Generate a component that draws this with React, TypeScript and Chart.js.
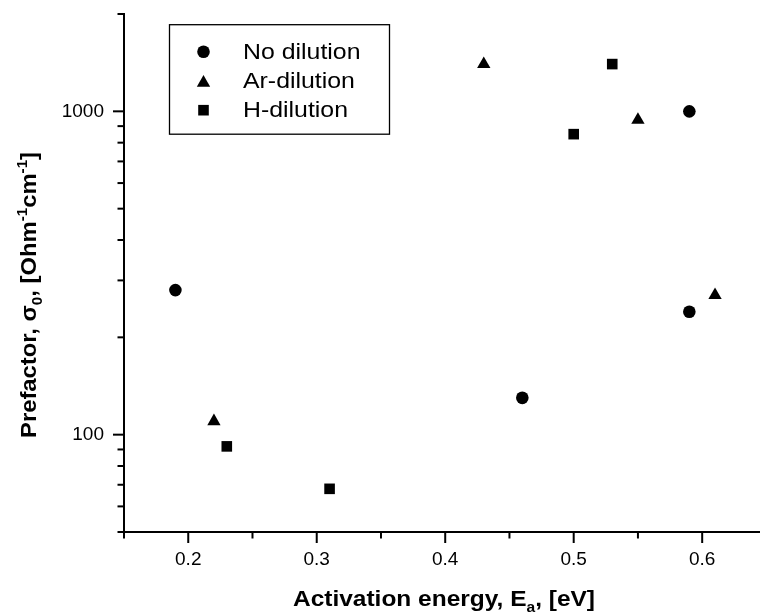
import React, { useEffect, useRef } from 'react';
import { Chart, registerables } from 'chart.js';

Chart.register(...registerables);

// ---- data ----
const seriesLabels = ['No dilution', 'Ar-dilution', 'H-dilution'];
const noDilutionX = [0.19, 0.46, 0.59, 0.59];
const noDilutionY = [280, 130, 1000, 240];
const arDilutionX = [0.22, 0.43, 0.55, 0.61];
const arDilutionY = [110, 1400, 940, 270];
const hDilutionX = [0.23, 0.31, 0.5, 0.53];
const hDilutionY = [92, 68, 850, 1400];

// ---- axes ----
const xMin = 0.15;
const xMax = 0.645;
const yMin = 50;
const yMax = 2000;
const xMajorTicks = [0.2, 0.3, 0.4, 0.5, 0.6];
const xMinorTicks = [0.15, 0.25, 0.35, 0.45, 0.55];
const yMajorTicks = [100, 1000];
const yMinorTicks = [50, 60, 70, 80, 90, 200, 300, 400, 500, 600, 700, 800, 900, 2000];

type Seg = { t: string; sub?: boolean; sup?: boolean };
const xTitle: Seg[] = [{ t: 'Activation energy, E' }, { t: 'a', sub: true }, { t: ', [eV]' }];
const yTitle: Seg[] = [
  { t: 'Prefactor, σ' },
  { t: '0', sub: true },
  { t: ', [Ohm' },
  { t: '-1', sup: true },
  { t: 'cm' },
  { t: '-1', sup: true },
  { t: ']' },
];

const FONT = '"Liberation Sans", Arial, Helvetica, sans-serif';
const pointStyles = ['circle', 'triangle', 'rect'] as const;
const pointRadii = [6.3, 7.7, 7.5];

function segFont(s: Seg, size: number, weight: string) {
  const sz = s.sub || s.sup ? Math.round(size * 0.62) : size;
  return `${weight} ${sz}px ${FONT}`;
}

function richWidth(ctx: CanvasRenderingContext2D, segs: Seg[], size: number, weight: string) {
  let w = 0;
  for (const s of segs) {
    ctx.font = segFont(s, size, weight);
    w += ctx.measureText(s.t).width;
  }
  return w;
}

// draws centered at (0,0) baseline, with horizontal stretch to target width
function drawRich(
  ctx: CanvasRenderingContext2D,
  segs: Seg[],
  size: number,
  weight: string,
  targetWidth: number
) {
  const w = richWidth(ctx, segs, size, weight);
  const sx = targetWidth / w;
  ctx.save();
  ctx.scale(sx, 1);
  ctx.textBaseline = 'alphabetic';
  ctx.textAlign = 'left';
  let x = -w / 2;
  for (const s of segs) {
    ctx.font = segFont(s, size, weight);
    const dy = s.sub ? size * 0.28 : s.sup ? -size * 0.38 : 0;
    ctx.fillText(s.t, x, dy);
    x += ctx.measureText(s.t).width;
  }
  ctx.restore();
}

function drawMarker(ctx: CanvasRenderingContext2D, style: string, r: number, x: number, y: number) {
  ctx.beginPath();
  if (style === 'circle') {
    ctx.arc(x, y, r, 0, Math.PI * 2);
  } else if (style === 'triangle') {
    const a = (2 * Math.PI) / 3;
    let rad = 0;
    ctx.moveTo(x + Math.sin(rad) * r, y - Math.cos(rad) * r);
    rad += a;
    ctx.lineTo(x + Math.sin(rad) * r, y - Math.cos(rad) * r);
    rad += a;
    ctx.lineTo(x + Math.sin(rad) * r, y - Math.cos(rad) * r);
    ctx.closePath();
  } else {
    const s = Math.SQRT1_2 * r;
    ctx.rect(x - s, y - s, 2 * s, 2 * s);
  }
  ctx.fill();
}

const decorPlugin = {
  id: 'decor',
  afterDraw(chart: any) {
    const { ctx, chartArea, scales } = chart;
    const xs = scales.x;
    const ys = scales.y;
    ctx.save();
    ctx.strokeStyle = '#000';
    ctx.fillStyle = '#000';
    ctx.lineWidth = 2;
    ctx.lineCap = 'butt';
    // tick marks
    const b = chartArea.bottom;
    const l = chartArea.left;
    const tick = (x1: number, y1: number, x2: number, y2: number) => {
      ctx.beginPath();
      ctx.moveTo(x1, y1);
      ctx.lineTo(x2, y2);
      ctx.stroke();
    };
    xMajorTicks.forEach((v) => {
      const p = xs.getPixelForValue(v);
      tick(p, b, p, b + 11);
    });
    xMinorTicks.forEach((v) => {
      const p = xs.getPixelForValue(v);
      tick(p, b, p, b + 6.5);
    });
    yMajorTicks.forEach((v) => {
      const p = ys.getPixelForValue(v);
      tick(l, p, l - 11, p);
    });
    yMinorTicks.forEach((v) => {
      const p = ys.getPixelForValue(v);
      tick(l, p, l - 6.5, p);
    });

    // axis titles
    ctx.save();
    ctx.translate(444, 605.5);
    drawRich(ctx, xTitle, 22, 'bold', 302);
    ctx.restore();

    ctx.save();
    ctx.translate(35.5, 295);
    ctx.rotate(-Math.PI / 2);
    drawRich(ctx, yTitle, 22, 'bold', 286);
    ctx.restore();

    // legend
    const bx = l + 45.5;
    const by = chartArea.top + 10.7;
    const bw = 220;
    const bh = 109.5;
    ctx.lineWidth = 1.3;
    ctx.fillStyle = '#fff';
    ctx.fillRect(bx, by, bw, bh);
    ctx.strokeRect(bx, by, bw, bh);
    ctx.fillStyle = '#000';
    const rowCenters = [27, 56.2, 85.5];
    chart.data.datasets.forEach((ds: any, i: number) => {
      const cy = by + rowCenters[i];
      drawMarker(ctx, pointStyles[i], pointRadii[i], bx + 34, i === 1 ? cy + 1.9 : cy);
      ctx.save();
      ctx.translate(bx + 73.5, cy + 6.8);
      ctx.scale(1.13, 1);
      ctx.font = `22px ${FONT}`;
      ctx.textAlign = 'left';
      ctx.textBaseline = 'alphabetic';
      ctx.fillText(ds.label, 0, 0);
      ctx.restore();
    });
    ctx.restore();
  },
};

function toPoints(xs: number[], ys: number[]) {
  return xs.map((x, i) => ({ x, y: ys[i] }));
}

export default function App() {
  const ref = useRef<HTMLCanvasElement | null>(null);

  useEffect(() => {
    document.body.style.margin = '0';
    const canvas = ref.current;
    if (!canvas) return;
    const seriesData = [
      toPoints(noDilutionX, noDilutionY),
      toPoints(arDilutionX, arDilutionY),
      toPoints(hDilutionX, hDilutionY),
    ];
    const chart = new Chart(canvas, {
      type: 'scatter',
      data: {
        datasets: seriesData.map((d, i) => ({
          label: seriesLabels[i],
          data: d,
          pointStyle: pointStyles[i],
          pointRadius: pointRadii[i],
          pointHoverRadius: pointRadii[i],
          backgroundColor: '#000',
          borderColor: '#000',
          pointBorderWidth: 0,
          showLine: false,
        })),
      },
      options: {
        animation: false,
        responsive: false,
        devicePixelRatio: 1,
        layout: { autoPadding: false, padding: { top: 14, right: 0, left: 0, bottom: 0 } },
        plugins: {
          legend: { display: false },
          tooltip: { enabled: false },
          title: { display: false },
        },
        scales: {
          x: {
            type: 'linear',
            min: xMin,
            max: xMax,
            afterBuildTicks: (s: any) => {
              s.ticks = xMajorTicks.map((v) => ({ value: v }));
            },
            afterFit: (s: any) => {
              s.height = 84;
              s.paddingLeft = 0;
              s.paddingRight = 0;
            },
            grid: {
              display: true,
              drawOnChartArea: false,
              drawTicks: true,
              tickLength: 10,
              color: 'rgba(0,0,0,0)',
            },
            border: { display: true, color: '#000', width: 2 },
            ticks: {
              padding: 6,
              maxRotation: 0,
              autoSkip: false,
              color: '#000',
              font: { family: FONT, size: 19 },
              callback: (v: any) => Number(v).toFixed(1),
            },
          },
          y: {
            type: 'logarithmic',
            min: yMin,
            max: yMax,
            afterBuildTicks: (s: any) => {
              s.ticks = yMajorTicks.map((v) => ({ value: v }));
            },
            afterFit: (s: any) => {
              s.width = 124;
              s.paddingTop = 0;
              s.paddingBottom = 0;
            },
            grid: {
              display: true,
              drawOnChartArea: false,
              drawTicks: true,
              tickLength: 10,
              color: 'rgba(0,0,0,0)',
            },
            border: { display: true, color: '#000', width: 2 },
            ticks: {
              padding: 10,
              autoSkip: false,
              color: '#000',
              font: { family: FONT, size: 19 },
              callback: (v: any) => String(v),
            },
          },
        },
      },
      plugins: [decorPlugin],
    });
    return () => chart.destroy();
  }, []);

  return (
    <div style={{ width: 760, height: 616 }}>
      <canvas ref={ref} width={760} height={616} style={{ display: 'block' }} />
    </div>
  );
}
